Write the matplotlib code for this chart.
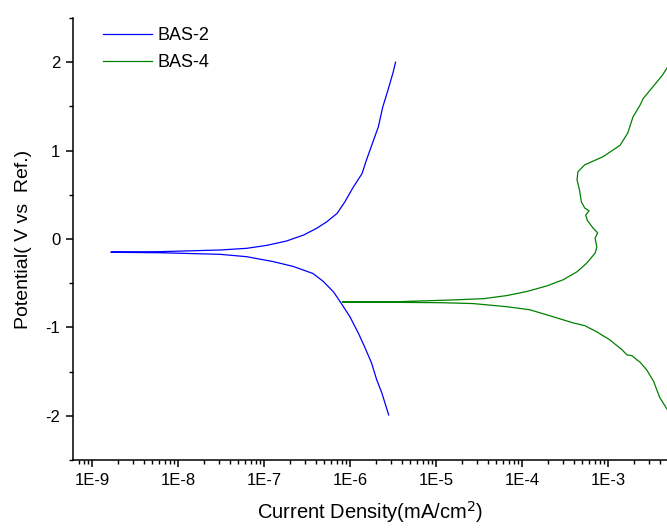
"""Tafel polarisation curves for BAS-2 and BAS-4."""
import numpy as np
import matplotlib
matplotlib.use("Agg")
import matplotlib.pyplot as plt
from matplotlib.ticker import LogLocator, NullFormatter, MultipleLocator

plt.rcParams["font.family"] = ["Liberation Sans", "DejaVu Sans"]
plt.rcParams["axes.unicode_minus"] = False

# BAS-2: log10(current density) and potential, anodic then cathodic branch
bas2_anodic_logi = [-8.78, -8.21, -7.51, -7.20, -6.97, -6.74, -6.54, -6.39,
                    -6.27, -6.15, -6.06, -5.96, -5.86, -5.81, -5.74, -5.67,
                    -5.62, -5.56, -5.50, -5.47]
bas2_anodic_v = [-0.147, -0.143, -0.124, -0.105, -0.072, -0.023, 0.045, 0.12,
                 0.195, 0.29, 0.42, 0.59, 0.74, 0.89, 1.08, 1.27,
                 1.49, 1.68, 1.88, 2.00]
bas2_cathodic_logi = [-8.78, -8.21, -7.51, -7.20, -6.89, -6.66, -6.43, -6.31,
                      -6.19, -6.10, -6.00, -5.90, -5.83, -5.75, -5.69, -5.63,
                      -5.55]
bas2_cathodic_v = [-0.150, -0.155, -0.173, -0.20, -0.256, -0.31, -0.39, -0.48,
                   -0.60, -0.73, -0.88, -1.07, -1.22, -1.40, -1.59, -1.74,
                   -1.99]

# BAS-4
bas4_anodic_logi = [-6.09, -5.42, -4.84, -4.45, -4.18, -3.95, -3.71, -3.52,
                    -3.36, -3.25, -3.15, -3.13, -3.15, -3.12, -3.17, -3.24,
                    -3.26, -3.22, -3.27, -3.31, -3.33, -3.36, -3.35, -3.27,
                    -3.06, -2.86, -2.77, -2.71, -2.63, -2.59, -2.48, -2.37,
                    -2.31]
bas4_anodic_v = [-0.71, -0.708, -0.69, -0.675, -0.64, -0.595, -0.53, -0.46,
                 -0.37, -0.275, -0.16, -0.09, 0.01, 0.07, 0.12, 0.21,
                 0.27, 0.32, 0.35, 0.42, 0.55, 0.67, 0.76, 0.84,
                 0.93, 1.06, 1.20, 1.38, 1.51, 1.59, 1.72, 1.85,
                 1.94]
bas4_cathodic_logi = [-6.09, -4.95, -4.57, -4.18, -3.91, -3.67, -3.40, -3.27,
                      -3.13, -2.98, -2.84, -2.78, -2.72, -2.66, -2.63, -2.55,
                      -2.47, -2.40, -2.31]
bas4_cathodic_v = [-0.712, -0.72, -0.73, -0.765, -0.80, -0.87, -0.95, -0.98,
                   -1.05, -1.14, -1.25, -1.31, -1.32, -1.37, -1.39, -1.48,
                   -1.61, -1.79, -1.93]

decades = [1e-9, 1e-8, 1e-7, 1e-6, 1e-5, 1e-4, 1e-3]
decade_labels = ["1E-9", "1E-8", "1E-7", "1E-6", "1E-5", "1E-4", "1E-3"]


def branch(logi_a, v_a, logi_c, v_c):
    # join the two branches at the corrosion point
    x = np.concatenate([10 ** np.array(logi_a)[::-1], 10 ** np.array(logi_c)])
    y = np.concatenate([np.array(v_a)[::-1], np.array(v_c)])
    return x, y


fig = plt.figure(figsize=(6.67, 5.30), dpi=100)
ax = fig.add_axes([0.1094, 0.132, 0.8906, 0.834])

x2, y2 = branch(bas2_anodic_logi, bas2_anodic_v, bas2_cathodic_logi, bas2_cathodic_v)
x4, y4 = branch(bas4_anodic_logi, bas4_anodic_v, bas4_cathodic_logi, bas4_cathodic_v)
ax.plot(x2, y2, color="#0000ff", lw=0.9, label="BAS-2")
ax.plot(x4, y4, color="#008000", lw=0.9, label="BAS-4")

ax.set_xscale("log")
ax.set_xlim(10 ** -9.221, 10 ** -2.314)
ax.set_ylim(-2.5, 2.5)
ax.set_xticks(decades)
ax.set_xticklabels(decade_labels)
ax.xaxis.set_minor_locator(LogLocator(base=10, subs=np.arange(2, 10), numticks=30))
ax.xaxis.set_minor_formatter(NullFormatter())
ax.set_yticks([-2, -1, 0, 1, 2])
ax.yaxis.set_minor_locator(MultipleLocator(0.5))

for side in ("top", "right"):
    ax.spines[side].set_visible(False)
for side in ("left", "bottom"):
    ax.spines[side].set_linewidth(1.1)
ax.tick_params(which="major", direction="out", length=5, width=1.1, labelsize=12, pad=4)
ax.tick_params(which="minor", direction="out", length=3, width=1.0)

ax.set_xlabel("Current Density(mA/cm$^2$)", fontsize=14.5, labelpad=8)
ax.set_ylabel("Potential( V vs  Ref.)", fontsize=14, labelpad=10)

ax.legend(loc="upper left", bbox_to_anchor=(0.035, 1.0), frameon=False, fontsize=13,
          handlelength=2.7, handletextpad=0.35, labelspacing=0.55, borderaxespad=0.1)

fig.savefig("out.png", dpi=100)
